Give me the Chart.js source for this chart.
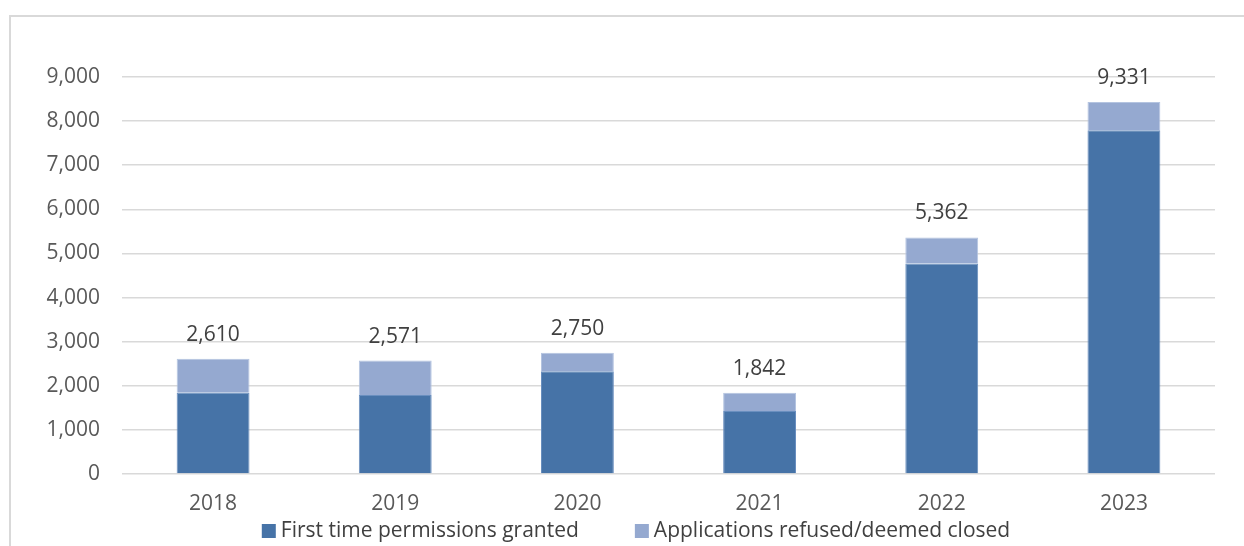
<!DOCTYPE html>
<html lang="en">
<head>
    <meta charset="UTF-8">
    <title>Permissions chart</title>
    <style>
        body {
            margin: 0;
            background: #fff;
            width: 1244px;
            height: 546px;
            overflow: hidden;
            position: relative;
        }

        .frame {
            position: absolute;
            left: 9px;
            top: 15px;
            width: 1400px;
            height: 700px;
            border: 2px solid #d9d9d9;
        }

        .chart-box {
            position: absolute;
            left: 0;
            top: 0;
            width: 1244px;
            height: 546px;
        }
    </style>
    <script src="https://cdn.jsdelivr.net/npm/chart.js"></script>
</head>
<body>
<div class="frame"></div>
<div class="chart-box">
    <canvas id="permChart"></canvas>
</div>
<script>
    const years = ['2018', '2019', '2020', '2021', '2022', '2023'];
    const granted = [1840, 1790, 2330, 1430, 4770, 7790];
    const refused = [770, 781, 420, 412, 592, 646];
    const totalLabels = [2610, 2571, 2750, 1842, 5362, 9331];
    const yTicks = [0, 1000, 2000, 3000, 4000, 5000, 6000, 7000, 8000, 9000];

    const fontFamily = '"Open Sans", sans-serif';
    const textFont = '21px ' + fontFamily;

    // writes the total above each stack
    const totalsPlugin = {
        id: 'totals',
        afterDatasetsDraw(chart) {
            const ctx = chart.ctx;
            const meta = chart.getDatasetMeta(chart.data.datasets.length - 1);
            ctx.save();
            ctx.font = textFont;
            ctx.fillStyle = '#404040';
            ctx.textAlign = 'center';
            ctx.textBaseline = 'middle';
            meta.data.forEach(function(bar, i) {
                ctx.fillText(totalLabels[i].toLocaleString('en-US'), bar.x, bar.y - 24);
            });
            ctx.restore();
        }
    };

    // legend drawn by hand so the gap between the two items can be wide
    const legendPlugin = {
        id: 'wideLegend',
        afterDraw(chart) {
            const ctx = chart.ctx;
            const sets = chart.data.datasets;
            const box = 14, gap = 5, itemGap = 56, centerX = 636, y = 531;
            ctx.save();
            ctx.font = textFont;
            ctx.textBaseline = 'middle';
            ctx.textAlign = 'left';
            const widths = sets.map(function(ds) { return ctx.measureText(ds.label).width; });
            let total = 0;
            widths.forEach(function(w) { total += box + gap + w; });
            total += itemGap * (sets.length - 1);
            let x = centerX - total / 2;
            sets.forEach(function(ds, i) {
                ctx.fillStyle = ds.backgroundColor;
                ctx.fillRect(x, y - box / 2, box, box);
                ctx.fillStyle = '#404040';
                ctx.fillText(ds.label, x + box + gap, y);
                x += box + gap + widths[i] + itemGap;
            });
            ctx.restore();
        }
    };

    const ctx = document.getElementById('permChart').getContext('2d');
    new Chart(ctx, {
        type: 'bar',
        data: {
            labels: years,
            datasets: [{
                label: 'First time permissions granted',
                data: granted,
                backgroundColor: '#4673a7',
                borderColor: '#6a8fbf',
                borderWidth: 1,
                categoryPercentage: 0.4,
                barPercentage: 1
            }, {
                label: 'Applications refused/deemed closed',
                data: refused,
                backgroundColor: '#95a9d0',
                borderColor: '#b4c4e0',
                borderWidth: 1,
                categoryPercentage: 0.4,
                barPercentage: 1
            }]
        },
        options: {
            responsive: true,
            maintainAspectRatio: false,
            animation: false,
            layout: {
                padding: { top: 77, right: 29, bottom: 30, left: 0 }
            },
            plugins: {
                tooltip: { enabled: false },
                legend: { display: false }
            },
            scales: {
                x: {
                    stacked: true,
                    grid: { display: false, drawTicks: false },
                    border: { display: false },
                    ticks: {
                        color: '#595959',
                        font: { family: fontFamily, size: 21 },
                        padding: 17
                    },
                    afterFit(scale) {
                        scale.height = 42;
                    }
                },
                y: {
                    stacked: true,
                    min: 0,
                    max: 9000,
                    grid: { color: '#d9d9d9', lineWidth: 1.5, drawTicks: false },
                    border: { display: false },
                    afterBuildTicks(scale) {
                        scale.ticks = yTicks.map(function(v) { return { value: v }; });
                    },
                    ticks: {
                        color: '#595959',
                        font: { family: fontFamily, size: 21 },
                        padding: 22,
                        callback: function(v) { return v.toLocaleString('en-US'); }
                    },
                    afterFit(scale) {
                        scale.width = 122;
                    }
                }
            }
        },
        plugins: [totalsPlugin, legendPlugin]
    });
</script>
</body>
</html>
